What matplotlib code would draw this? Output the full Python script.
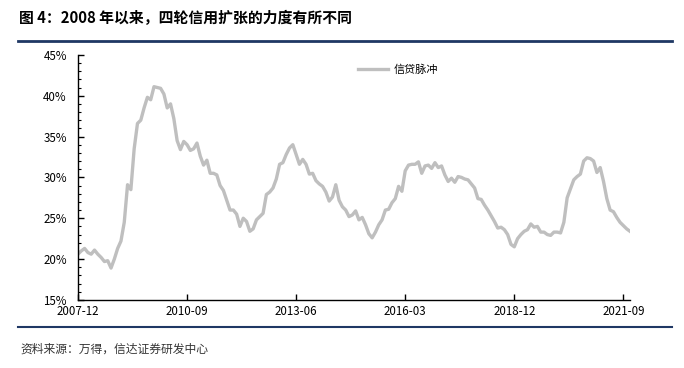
import numpy as np
import matplotlib.pyplot as plt
from matplotlib.ticker import MultipleLocator, FuncFormatter

plt.rcParams['font.family'] = ['Noto Sans CJK SC', 'DejaVu Sans']

# monthly credit impulse, 2007-12 .. 2021-11 (%)
credit_impulse = [
    20.6, 21.0, 21.3, 20.8, 20.6, 21.1, 20.6, 20.2, 19.7, 19.8,
    18.9, 20.0, 21.3, 22.2, 24.5, 29.1, 28.5, 33.5, 36.6, 37.0,
    38.5, 39.8, 39.5, 41.1, 41.0, 40.9, 40.2, 38.5, 39.0, 37.2,
    34.5, 33.4, 34.4, 34.0, 33.3, 33.5, 34.2, 32.6, 31.5, 32.1,
    30.5, 30.5, 30.3, 29.0, 28.4, 27.2, 26.0, 26.0, 25.5, 24.0,
    25.0, 24.6, 23.4, 23.7, 24.8, 25.2, 25.6, 27.9, 28.2, 28.7,
    29.8, 31.6, 31.8, 32.8, 33.6, 34.0, 32.8, 31.6, 32.2, 31.6,
    30.4, 30.5, 29.6, 29.2, 28.9, 28.2, 27.1, 27.6, 29.1, 27.2,
    26.4, 26.0, 25.2, 25.4, 25.9, 24.8, 25.1, 24.2, 23.1, 22.6,
    23.3, 24.2, 24.8, 26.0, 26.1, 26.9, 27.4, 28.9, 28.3, 30.8,
    31.5, 31.6, 31.6, 31.9, 30.5, 31.4, 31.5, 31.1, 31.8, 31.2,
    31.4, 30.3, 29.5, 29.9, 29.4, 30.1, 30.0, 29.8, 29.7, 29.2,
    28.7, 27.4, 27.3, 26.6, 26.0, 25.3, 24.6, 23.8, 23.9, 23.6,
    23.0, 21.8, 21.5, 22.5, 23.0, 23.4, 23.6, 24.3, 23.9, 24.0,
    23.3, 23.3, 23.0, 22.9, 23.3, 23.3, 23.2, 24.5, 27.5, 28.6,
    29.7, 30.1, 30.4, 32.0, 32.4, 32.3, 32.0, 30.6, 31.2, 29.5,
    27.4, 26.0, 25.8, 25.1, 24.5, 24.1, 23.7, 23.4,
]
tick_months = [0, 33, 66, 99, 132, 165]
tick_labels = ['2007-12', '2010-09', '2013-06', '2016-03', '2018-12', '2021-09']

months = np.arange(len(credit_impulse))

fig = plt.figure(figsize=(6.84, 3.68), dpi=100)
ax = fig.add_axes([0.114, 0.185, 0.807, 0.666])

ax.plot(months, credit_impulse, color='#BFBFBF', lw=2.4, label='信贷脉冲')

ax.set_xlim(0, 167)
ax.set_ylim(15, 45)
ax.set_xticks(tick_months)
ax.set_xticklabels(tick_labels)
ax.yaxis.set_major_locator(MultipleLocator(5))
ax.yaxis.set_minor_locator(MultipleLocator(1))
ax.yaxis.set_major_formatter(FuncFormatter(lambda v, p: f'{v:.0f}%'))

for s in ['top', 'right']:
    ax.spines[s].set_visible(False)
for s in ['left', 'bottom']:
    ax.spines[s].set_linewidth(1.0)
    ax.spines[s].set_color('black')

ax.tick_params(axis='both', which='major', direction='in', length=4, width=1,
               labelsize=8.3, colors='black')
ax.tick_params(axis='y', which='minor', direction='in', length=2.5, width=0.8)
ax.tick_params(axis='x', pad=4)
ax.tick_params(axis='y', pad=8)

leg = ax.legend(loc='upper left', bbox_to_anchor=(0.49, 1.0), frameon=False,
                fontsize=8, handlelength=2.7, handletextpad=0.5)

# title + rules
fig.text(0.028, 0.952, '图 4：2008 年以来，四轮信用扩张的力度有所不同',
         fontsize=10.7, fontweight='bold', ha='left', va='center', color='black')
fig.add_artist(plt.Line2D([0.026, 0.982], [0.888, 0.888], color='#1F3864', lw=2.0))
fig.add_artist(plt.Line2D([0.026, 0.982], [0.112, 0.112], color='#1F3864', lw=1.5))
fig.text(0.03, 0.052, '资料来源：万得，信达证券研发中心', fontsize=8.5,
         style='italic', ha='left', va='center', color='#333333')

fig.savefig('out.png', dpi=100)
